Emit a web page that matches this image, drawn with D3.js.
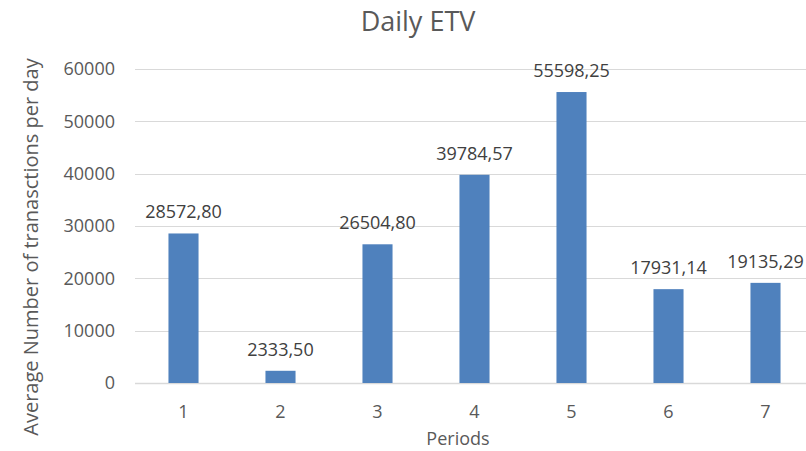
<!DOCTYPE html>
<html>
<head>
<meta charset="utf-8">
<script src="https://cdn.jsdelivr.net/npm/d3@7"></script>
<style>
	body { margin: 0; background: #fff; }
	text { font-family: "Open Sans", "Liberation Sans", sans-serif; fill: #595959; }
</style>
</head>
<body>
<svg width="806" height="451"></svg>
<script>
// values
var periods = ['1', '2', '3', '4', '5', '6', '7']
var etv = [28572.80, 2333.50, 26504.80, 39784.57, 55598.25, 17931.14, 19135.29]
var yTicks = [0, 10000, 20000, 30000, 40000, 50000, 60000]

var svg = d3.select('svg')
// note: "top" is taken by window.top, so plot* names
var plotLeft = 135, plotRight = 814, plotTop = 69, plotBottom = 383

var x = d3.scaleBand()
	.domain(periods)
	.range([plotLeft, plotRight])
	.paddingInner(0.69)
	.paddingOuter(0.345)

var y = d3.scaleLinear()
	.domain([0, 60000])
	.range([plotBottom, plotTop])

// gridlines
svg.append('g')
	.selectAll('line')
	.data(yTicks)
	.enter().append('line')
		.attr('x1', plotLeft)
		.attr('x2', 806)
		.attr('y1', function(d) { return Math.round(y(d)) + 0.5 })
		.attr('y2', function(d) { return Math.round(y(d)) + 0.5 })
		.attr('stroke', '#d9d9d9')
		.attr('stroke-width', function(d) { return d == 0 ? 1.5 : 1.2 })

// y axis labels
var yAxis = svg.append('g')
	.attr('transform', 'translate(' + (plotLeft - 20) + ',0)')
	.call(d3.axisLeft(y).tickValues(yTicks).tickSize(0).tickPadding(0).tickFormat(d3.format('d')))
yAxis.select('.domain').remove()
yAxis.selectAll('text')
	.style('font-size', '18px')
	.attr('fill', '#595959')

// x axis labels
var xAxis = svg.append('g')
	.attr('transform', 'translate(0,' + plotBottom + ')')
	.call(d3.axisBottom(x).tickSize(0).tickPadding(22))
xAxis.select('.domain').remove()
xAxis.selectAll('text')
	.style('font-size', '18px')
	.attr('fill', '#595959')

// bars
svg.append('g')
	.selectAll('rect')
	.data(etv)
	.enter().append('rect')
		.attr('x', function(d, i) { return x(periods[i]) })
		.attr('y', function(d) { return y(d) })
		.attr('width', x.bandwidth())
		.attr('height', function(d) { return plotBottom - y(d) })
		.attr('fill', '#4f81bd')

// value labels
svg.append('g')
	.selectAll('text')
	.data(etv)
	.enter().append('text')
		.attr('x', function(d, i) { return x(periods[i]) + x.bandwidth() / 2 })
		.attr('y', function(d) { return y(d) - 15 })
		.attr('text-anchor', 'middle')
		.style('font-size', '18px')
		.style('fill', '#404040')
		.text(function(d) { return d.toFixed(2).replace('.', ',') })

// title
svg.append('text')
	.attr('x', 418)
	.attr('y', 31)
	.attr('text-anchor', 'middle')
	.style('font-size', '27px')
	.text('Daily ETV')

// axis titles
svg.append('text')
	.attr('x', 458)
	.attr('y', 445)
	.attr('text-anchor', 'middle')
	.style('font-size', '18px')
	.text('Periods')

svg.append('text')
	.attr('transform', 'translate(38,247) rotate(-90)')
	.attr('text-anchor', 'middle')
	.style('font-size', '20px')
	.text('Average Number of tranasctions per day')
</script>
</body>
</html>
